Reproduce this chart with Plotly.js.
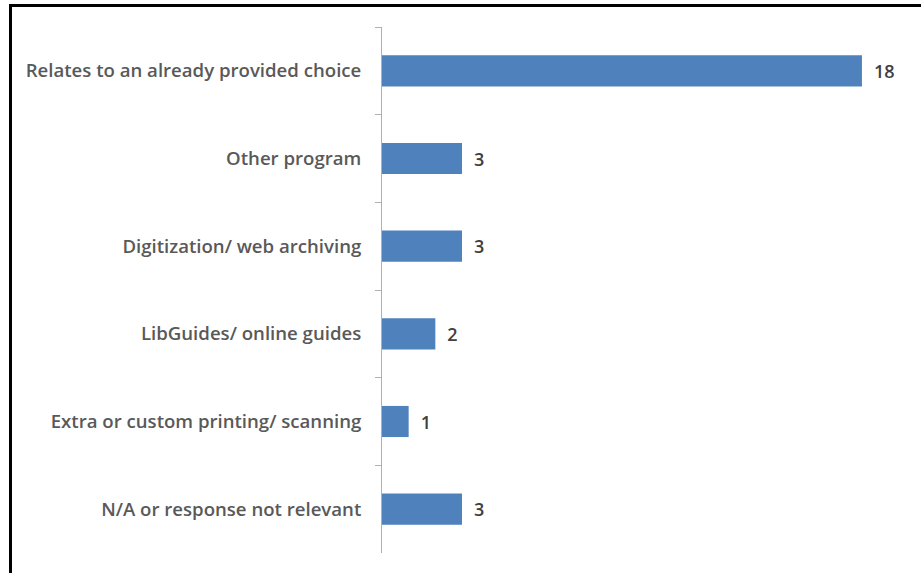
<!DOCTYPE html>
<html>
<head>
<meta charset="utf-8">
<script src="https://cdn.plot.ly/plotly-3.0.1.min.js"></script>
<style>
html,body{margin:0;padding:0;background:#fff;}
#wrap{position:relative;width:922px;height:573px;overflow:hidden;}
#frame{position:absolute;left:9px;top:4px;width:912px;height:580px;border-left:3px solid #000;border-top:3px solid #000;box-sizing:border-box;pointer-events:none;z-index:10;}
#chart{position:absolute;left:0;top:0;width:922px;height:573px;}
</style>
</head>
<body>
<div id="wrap">
<div id="chart"></div>
<div id="frame"></div>
</div>
<script>
const categories = [
  "Relates to an already provided choice",
  "Other program",
  "Digitization/ web archiving",
  "LibGuides/ online guides",
  "Extra or custom printing/ scanning",
  "N/A or response not relevant"
];
const counts = [18, 3, 3, 2, 1, 3];

const trace = {
  type: 'bar',
  orientation: 'h',
  y: categories,
  x: counts,
  text: counts.map(v => '\u2002' + v),
  textposition: 'outside',
  cliponaxis: false,
  textfont: {family: '"Open Sans", sans-serif', size: 18, color: '#404040', weight: 600},
  marker: {color: '#4F81BD', line: {width: 0}},
  hoverinfo: 'none'
};

const layout = {
  width: 922, height: 573,
  margin: {l: 382, r: 7, t: 27, b: 20, pad: 0},
  paper_bgcolor: '#ffffff',
  plot_bgcolor: '#ffffff',
  showlegend: false,
  bargap: 0.645,
  font: {family: '"Open Sans", sans-serif'},
  xaxis: {
    range: [0, 19.99],
    visible: false,
    fixedrange: true
  },
  yaxis: {
    type: 'category',
    categoryorder: 'array',
    categoryarray: categories,
    autorange: 'reversed',
    showline: true,
    linecolor: '#B0B0B0',
    linewidth: 1,
    ticks: 'outside',
    tickson: 'boundaries',
    ticklen: 6,
    tickcolor: '#B0B0B0',
    ticklabelstandoff: 16,
    showgrid: false,
    zeroline: false,
    tickfont: {family: '"Open Sans", sans-serif', size: 18.6, color: '#595959', weight: 600},
    fixedrange: true
  }
};

Plotly.newPlot('chart', [trace], layout, {displayModeBar: false, staticPlot: true});
</script>
</body>
</html>
